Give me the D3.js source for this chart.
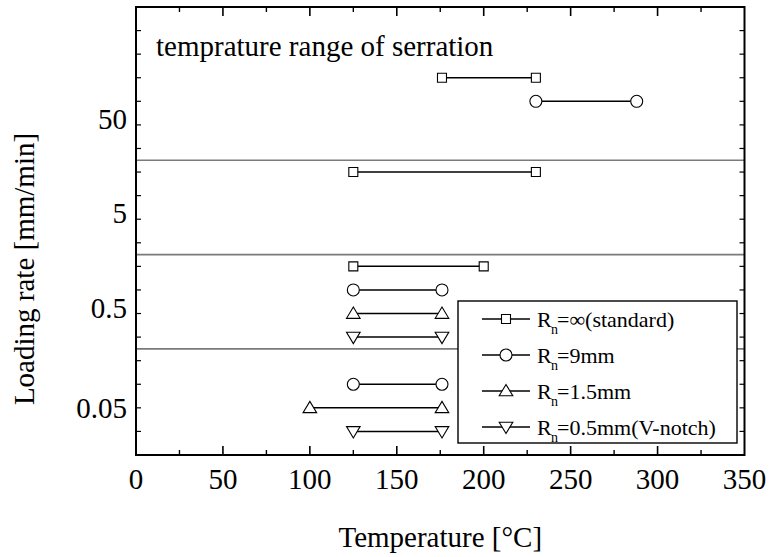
<!DOCTYPE html>
<html>
<head>
<meta charset="utf-8">
<script src="https://cdn.jsdelivr.net/npm/d3@7"></script>
<style>
  html, body { margin: 0; padding: 0; background: #fff; }
  svg { display: block; }
  text { font-family: "Liberation Serif", "Times New Roman", serif; fill: #000; }
</style>
</head>
<body>
<svg id="chart" width="771" height="557"></svg>
<script>
// ---- data ----
const rateLabels = ["0.05", "0.5", "5", "50"];
const rateLabelPos = [2, 6.25, 10.25, 14.25];
const groupSeparators = [4.5, 8.5, 12.5];
const xTicks = [0, 50, 100, 150, 200, 250, 300, 350];

const seriesNames = ["∞(standard)", "9mm", "1.5mm", "0.5mm(V-notch)"];
const seriesSymbols = ["square", "circle", "triangle", "triangleDown"];
// rows: vertical slot index; ranges: [Tstart, Tend] in °C
const standardRows = [16, 12, 8];
const standardRanges = [[176, 230], [125, 230], [125, 200]];
const r9Rows = [15, 7, 3];
const r9Ranges = [[230, 288], [125, 176], [125, 176]];
const r15Rows = [6, 2];
const r15Ranges = [[125, 176], [100, 176]];
const r05Rows = [5, 1];
const r05Ranges = [[125, 176], [125, 176]];

const seriesRows = [standardRows, r9Rows, r15Rows, r05Rows];
const seriesRanges = [standardRanges, r9Ranges, r15Ranges, r05Ranges];

// ---- layout ----
const L = 136, R = 744.5, T = 7, B = 455;
const svg = d3.select("#chart");
const x = d3.scaleLinear().domain([0, 350]).range([L, R]);
const y = d3.scaleLinear().domain([0, 19]).range([B, T]);

function symbolPath(type) {
  switch (type) {
    case "square": return "M-4.5,-4.5H4.5V4.5H-4.5Z";
    case "circle": return "M6,0A6,6 0 1,1 -6,0A6,6 0 1,1 6,0Z";
    case "triangle": return "M0,-6.5L6.8,4.8L-6.8,4.8Z";
    case "triangleDown": return "M0,6.5L6.8,-4.8L-6.8,-4.8Z";
  }
}

// separators
svg.append("g").selectAll("line").data(groupSeparators).join("line")
  .attr("x1", L).attr("x2", R)
  .attr("y1", d => y(d)).attr("y2", d => y(d))
  .attr("stroke", "#7a7a7a").attr("stroke-width", 1.6);

// data segments
seriesNames.forEach((name, i) => {
  const segs = seriesRows[i].map((row, j) => ({ row, t0: seriesRanges[i][j][0], t1: seriesRanges[i][j][1] }));
  const g = svg.append("g");
  g.selectAll("line").data(segs).join("line")
    .attr("x1", d => x(d.t0)).attr("x2", d => x(d.t1))
    .attr("y1", d => y(d.row)).attr("y2", d => y(d.row))
    .attr("stroke", "#000").attr("stroke-width", 1.5);
  const pts = segs.flatMap(d => [{ t: d.t0, row: d.row }, { t: d.t1, row: d.row }]);
  g.selectAll("path").data(pts).join("path")
    .attr("d", symbolPath(seriesSymbols[i]))
    .attr("transform", d => `translate(${x(d.t)},${y(d.row)})`)
    .attr("fill", "#fff").attr("stroke", "#000").attr("stroke-width", 1.1);
});

// axes frame with inward ticks
const minorX = d3.range(25, 350, 50);
const majorX = d3.range(50, 350, 50);
const yTicks = d3.range(1, 19);
const ax = svg.append("g").attr("stroke", "#000");
function tickLines(vals, fn, len, w) {
  ax.append("g").selectAll("line").data(vals).join("line").each(function (d) { fn(d3.select(this), d, len); })
    .attr("stroke-width", w);
}
[[B, -1], [T, 1]].forEach(([yy, dir]) => {
  tickLines(majorX, (s, d, len) => s.attr("x1", x(d)).attr("x2", x(d)).attr("y1", yy).attr("y2", yy + dir * len), 9, 1.6);
  tickLines(minorX, (s, d, len) => s.attr("x1", x(d)).attr("x2", x(d)).attr("y1", yy).attr("y2", yy + dir * len), 5, 1.4);
});
[[L, 1], [R, -1]].forEach(([xx, dir]) => {
  tickLines(yTicks, (s, d, len) => s.attr("y1", y(d)).attr("y2", y(d)).attr("x1", xx).attr("x2", xx + dir * len), 5, 1.2);
});
svg.append("rect").attr("x", L).attr("y", T).attr("width", R - L).attr("height", B - T)
  .attr("fill", "none").attr("stroke", "#000").attr("stroke-width", 2);

// x tick labels
svg.append("g").selectAll("text").data(xTicks).join("text")
  .attr("x", d => x(d)).attr("y", 489)
  .attr("text-anchor", "middle").attr("font-size", 29)
  .text(d => d);

// y tick labels
svg.append("g").selectAll("text").data(rateLabels).join("text")
  .attr("x", 127).attr("y", (d, i) => y(rateLabelPos[i]) + 10)
  .attr("text-anchor", "end").attr("font-size", 29)
  .text(d => d);

// axis titles
svg.append("text").attr("x", (L + R) / 2).attr("y", 547)
  .attr("text-anchor", "middle").attr("font-size", 29)
  .text("Temperature [°C]");
svg.append("text").attr("transform", "translate(34,269) rotate(-90)")
  .attr("text-anchor", "middle").attr("font-size", 29)
  .text("Loading rate [mm/min]");

// inner title
svg.append("text").attr("x", 156).attr("y", 56).attr("font-size", 29)
  .text("temprature range of serration");

// legend
const lg = svg.append("g");
lg.append("rect").attr("x", 458).attr("y", 301).attr("width", 279).attr("height", 142)
  .attr("fill", "#fff").attr("stroke", "#000").attr("stroke-width", 1.4);
seriesNames.forEach((name, i) => {
  const cy = 319 + i * 36;
  lg.append("line").attr("x1", 482).attr("x2", 530).attr("y1", cy).attr("y2", cy)
    .attr("stroke", "#000").attr("stroke-width", 1.5);
  lg.append("path").attr("d", symbolPath(seriesSymbols[i]))
    .attr("transform", `translate(506,${cy})`)
    .attr("fill", "#fff").attr("stroke", "#000").attr("stroke-width", 1.1);
  lg.append("text").attr("x", 537).attr("y", cy + 8).attr("font-size", 22).text("R");
  lg.append("text").attr("x", 551).attr("y", cy + 15).attr("font-size", 14).text("n");
  lg.append("text").attr("x", 557).attr("y", cy + 8).attr("font-size", 22).text("=" + name);
});
</script>
</body>
</html>
